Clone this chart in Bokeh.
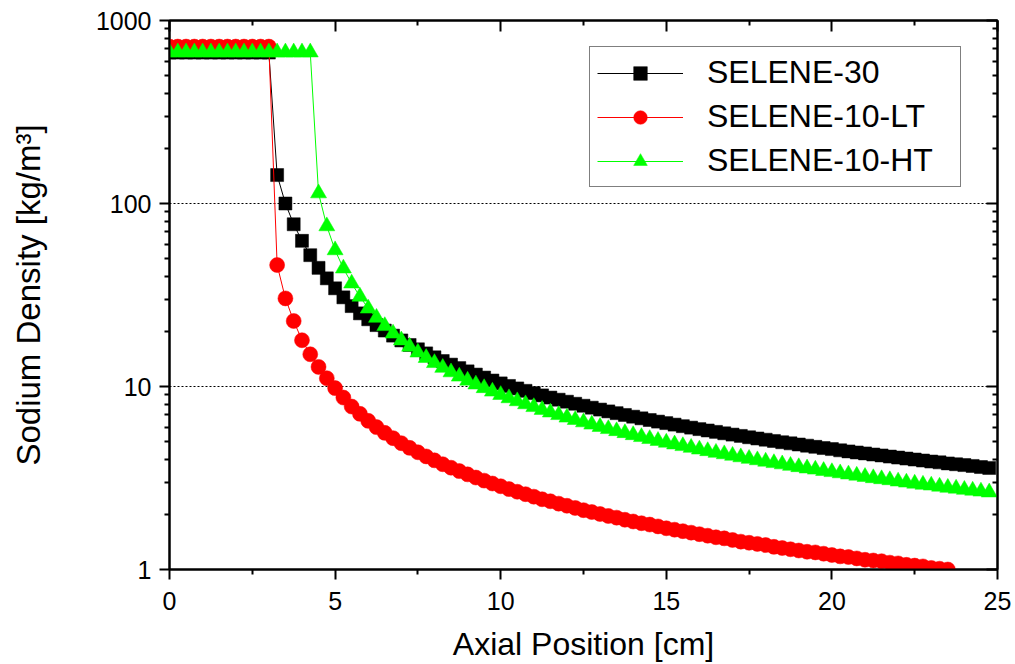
from bokeh.plotting import figure
from bokeh.models import (FixedTicker, LinearAxis, LogAxis, Legend, LegendItem,
                          CustomJSTickFormatter)
from bokeh.embed import file_html
from bokeh.resources import INLINE

# ---- data (sodium density, kg/m^3, sampled every 0.25 cm) ----
STEP = 0.25
selene30 = [668] * 13 + [
    143, 100, 77, 62.5, 52.2, 44.5, 39.0, 34.4, 30.7, 27.5, 25.1, 23.3,
    21.65, 20.22, 18.97, 17.85, 16.86, 15.97, 15.17, 14.44, 13.78, 13.17, 12.61, 12.10, 11.62, 11.19, 10.78, 10.40,
    10.07, 9.76, 9.47, 9.20, 8.94, 8.70, 8.47, 8.26, 8.05, 7.85,
    7.66, 7.48, 7.31, 7.15, 6.99, 6.84, 6.70, 6.56, 6.43, 6.31,
    6.19, 6.07, 5.96, 5.85, 5.75, 5.65, 5.55, 5.46, 5.37, 5.28,
    5.20, 5.12, 5.04, 4.96, 4.89, 4.82, 4.75, 4.68, 4.61, 4.55,
    4.48, 4.42, 4.36, 4.31, 4.25, 4.20, 4.14, 4.09, 4.04, 3.99,
    3.94, 3.89, 3.85, 3.80, 3.76, 3.72, 3.68, 3.63, 3.59]
selene10_lt = [720] * 13 + [
    46.1, 30.3, 22.8, 17.9, 15.0, 12.8, 11.1, 9.8, 8.7, 7.77, 7.09, 6.49,
    6.00, 5.58, 5.22, 4.90, 4.62, 4.37, 4.15, 3.95, 3.76, 3.60, 3.45, 3.31, 3.18, 3.06, 2.95, 2.85,
    2.75, 2.66, 2.58, 2.50, 2.42, 2.36, 2.29, 2.23, 2.17, 2.11,
    2.06, 2.01, 1.96, 1.92, 1.87, 1.83, 1.79, 1.76, 1.72, 1.68,
    1.65, 1.62, 1.59, 1.56, 1.53, 1.50, 1.48, 1.45, 1.42, 1.40,
    1.38, 1.36, 1.33, 1.31, 1.29, 1.27, 1.25, 1.24, 1.22, 1.20,
    1.18, 1.17, 1.15, 1.13, 1.12, 1.11, 1.09, 1.08, 1.06, 1.05,
    1.04, 1.02, 1.01, 1.00]
selene10_ht = [670] * 18 + [
    113.8, 75.2, 55.6, 44.2, 36.6, 31.0, 26.7,
    23.77, 21.42, 19.49, 17.88, 16.52, 15.35, 14.34, 13.45, 12.66, 11.97, 11.34, 10.78, 10.27, 9.81, 9.39, 9.00,
    8.64, 8.32, 8.01, 7.73, 7.46, 7.22, 6.99, 6.77, 6.57, 6.38,
    6.20, 6.02, 5.86, 5.71, 5.57, 5.43, 5.30, 5.17, 5.05, 4.94,
    4.83, 4.73, 4.63, 4.53, 4.44, 4.35, 4.27, 4.19, 4.11, 4.03,
    3.96, 3.89, 3.82, 3.76, 3.69, 3.63, 3.57, 3.52, 3.46, 3.41,
    3.36, 3.31, 3.26, 3.21, 3.16, 3.12, 3.08, 3.03, 2.99, 2.95,
    2.91, 2.88, 2.84, 2.80, 2.77, 2.73, 2.70, 2.67, 2.64]

series_names = ["SELENE-30", "SELENE-10-LT", "SELENE-10-HT"]
x_ticks = [0, 5, 10, 15, 20, 25]
x_minor = [2.5, 7.5, 12.5, 17.5, 22.5]
y_ticks = [1, 10, 100, 1000]
y_tick_labels = ["1", "10", "100", "1000"]
y_minor = [2, 3, 4, 5, 6, 7, 8, 9, 20, 30, 40, 50, 60, 70, 80, 90,
           200, 300, 400, 500, 600, 700, 800, 900]
grid_levels = [10, 100]


def xs(vals):
    return [round(i * STEP, 2) for i in range(len(vals))]


FONT = "Liberation Sans"

p = figure(width=1015, height=664, y_axis_type="log",
           x_range=(0, 25), y_range=(1, 1000),
           output_backend="svg", toolbar_location=None,
           min_border_left=169, min_border_right=18,
           min_border_top=20, min_border_bottom=94,
           background_fill_color="white", border_fill_color="white")
p.outline_line_color = "black"
p.outline_line_width = 2

p.xgrid.visible = False
p.ygrid.ticker = FixedTicker(ticks=grid_levels)
p.ygrid.grid_line_color = "black"
p.ygrid.grid_line_dash = "2 2"
p.ygrid.grid_line_width = 1

xt = FixedTicker(ticks=x_ticks, minor_ticks=x_minor)
yt = FixedTicker(ticks=y_ticks, minor_ticks=y_minor)

xa = p.xaxis[0]
xa.ticker = xt
ya = p.yaxis[0]
ya.ticker = yt
ya.major_label_overrides = {t: l for t, l in zip(y_ticks, y_tick_labels)}

for ax in (xa, ya):
    ax.axis_line_width = 2
    ax.axis_line_color = "black"
    ax.major_tick_line_width = 2
    ax.minor_tick_line_width = 2
    ax.major_tick_out = 10
    ax.major_tick_in = 0
    ax.minor_tick_out = 5
    ax.minor_tick_in = 0
    ax.major_label_text_font = FONT
    ax.major_label_text_font_size = "25px"
    ax.major_label_text_color = "black"
    ax.axis_label_text_font = FONT
    ax.axis_label_text_font_style = "normal"
    ax.axis_label_text_color = "black"

xa.axis_label = "Axial Position [cm]"
xa.axis_label_text_font_size = "32px"
xa.major_label_standoff = 12
xa.axis_label_standoff = 13
ya.axis_label = "Sodium Density [kg/m³]"
ya.axis_label_text_font_size = "33px"
ya.major_label_standoff = 8
ya.axis_label_standoff = 46

blank = CustomJSTickFormatter(code="return ''")
top = LinearAxis(ticker=FixedTicker(ticks=x_ticks, minor_ticks=x_minor), formatter=blank)
right = LogAxis(ticker=FixedTicker(ticks=y_ticks, minor_ticks=y_minor), formatter=blank)
for ax in (top, right):
    ax.axis_line_width = 2
    ax.major_tick_line_width = 2
    ax.minor_tick_line_width = 2
    ax.major_tick_in = 11
    ax.major_tick_out = 0
    ax.minor_tick_in = 5
    ax.minor_tick_out = 0
    ax.major_label_standoff = 0
    ax.major_label_text_font_size = "10px"
p.add_layout(top, "above")
p.add_layout(right, "right")

# ---- series ----
l1 = p.line(xs(selene30), selene30, line_color="black", line_width=1)
m1 = p.scatter(xs(selene30), selene30, marker="square", size=13,
               fill_color="black", line_color="black", line_width=0.5)
l2 = p.line(xs(selene10_lt), selene10_lt, line_color="#ff0000", line_width=1)
m2 = p.scatter(xs(selene10_lt), selene10_lt, marker="circle", size=15,
               fill_color="#ff0000", line_color="#ff0000", line_width=0.5)
l3 = p.line(xs(selene10_ht), selene10_ht, line_color="#00ff00", line_width=1)
m3 = p.scatter(xs(selene10_ht), selene10_ht, marker="triangle", size=16,
               fill_color="#00ff00", line_color="#00ff00", line_width=0.5)

legend = Legend(items=[
    LegendItem(label=series_names[0], renderers=[l1, m1]),
    LegendItem(label=series_names[1], renderers=[l2, m2]),
    LegendItem(label=series_names[2], renderers=[l3, m3]),
], location=(420, 382))
legend.label_text_font = FONT
legend.label_text_font_size = "32px"
legend.label_text_color = "black"
legend.glyph_width = 86
legend.glyph_height = 34
legend.label_height = 34
legend.label_standoff = 24
legend.label_width = 246
legend.padding = 7
legend.spacing = 7
legend.margin = 0
legend.border_line_color = "black"
legend.border_line_width = 1.5
legend.background_fill_color = "white"
legend.background_fill_alpha = 1
p.add_layout(legend)

open("out.html", "w").write(file_html(p, INLINE))
